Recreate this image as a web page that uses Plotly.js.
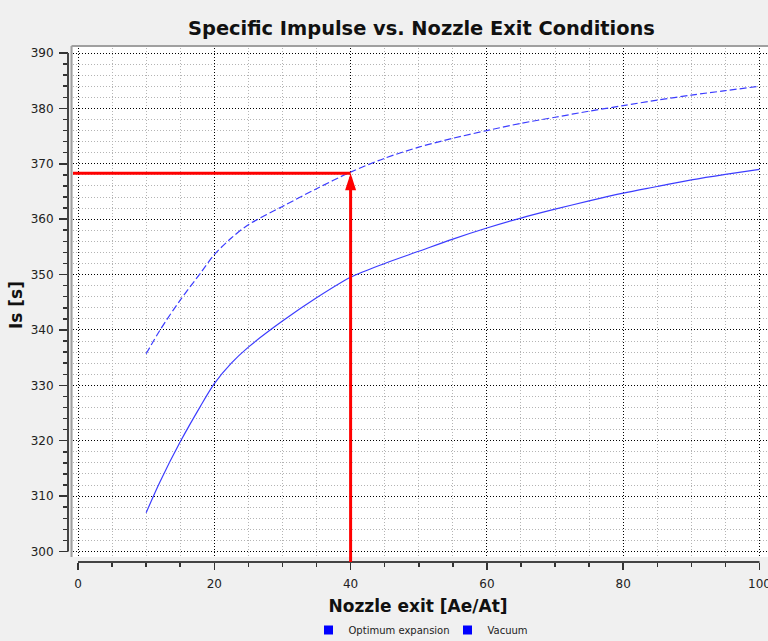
<!DOCTYPE html>
<html><head><meta charset="utf-8">
<script src="https://cdn.plot.ly/plotly-3.0.1.min.js"></script>
<style>html,body{margin:0;padding:0;background:#f0f0f0;}</style>
</head><body><div id="chart" style="width:768px;height:641px;"></div>
<script>
// ---- data ----
const areaRatio   = [10, 12, 15, 18, 20, 22.5, 25, 30, 35, 40, 45, 50, 55, 60, 65, 70, 75, 80, 85, 90, 95, 100];
const ispOptimum  = [307.0, 312.5, 319.8, 326.3, 330.3, 334.0, 336.9, 341.6, 345.8, 349.5, 352.0, 354.2, 356.4, 358.4, 360.2, 361.8, 363.3, 364.7, 365.9, 367.1, 368.1, 369.0];
const ispVacuum   = [335.7, 339.9, 345.4, 350.3, 353.6, 356.6, 359.0, 362.3, 365.5, 368.5, 371.0, 373.0, 374.6, 376.0, 377.3, 378.4, 379.5, 380.5, 381.5, 382.4, 383.2, 384.0];
const seriesNames = ["Optimum expansion", "Vacuum"];
const markerAreaRatio = [40];
const markerIsp       = [368.3];
const xTicks = [0, 20, 40, 60, 80, 100];
const yTicks = [300, 310, 320, 330, 340, 350, 360, 370, 380, 390];

// ---- geometry ----
const W = 768, H = 641;
const L = 68, R = 0, T = 48, B = 79;
const plotW = W - L - R, plotH = H - T - B;
const xPx0 = 78, xPx100 = 759.5;           // pixel of x=0 and x=100
const yPx390 = 53, yPx300 = 551.5;         // pixel of y=390 and y=300
const sx = (xPx100 - xPx0) / 100;
const sy = (yPx300 - yPx390) / 90;
const gapL = 5, gapB = 5;                  // gray strip between axes and white area
const xRight = 100 + (W - R - xPx100) / sx;
const yTop = 390 + (yPx390 - T) / sy;
const x2Range = [-(xPx0 - L) / sx, xRight];
const xRange  = [-(xPx0 - L - gapL) / sx, xRight];
const y2Range = [300 - (H - B - yPx300) / sy, yTop];
const yRange  = [300 - (H - B - gapB - yPx300) / sy, yTop];
const dX = gapL / plotW, dY = gapB / plotH;

const font = "DejaVu Sans, Verdana, sans-serif";
const lineBlue = "#3c3cff";

const traces = [
  {x: areaRatio, y: ispOptimum, xaxis: "x", yaxis: "y", mode: "lines", name: seriesNames[0],
   line: {color: lineBlue, width: 1.2, shape: "spline", smoothing: 0.8}, showlegend: false, hoverinfo: "skip"},
  {x: areaRatio, y: ispVacuum, xaxis: "x", yaxis: "y", mode: "lines", name: seriesNames[1],
   line: {color: lineBlue, width: 1.2, dash: "7px,3px", shape: "spline", smoothing: 0.8}, showlegend: false, hoverinfo: "skip"},
  {x: [null], y: [null], xaxis: "x2", yaxis: "y2", mode: "markers", name: seriesNames[0],
   marker: {symbol: "square", size: 9, color: "#0000ff"}},
  {x: [null], y: [null], xaxis: "x2", yaxis: "y2", mode: "markers", name: seriesNames[1],
   marker: {symbol: "square", size: 9, color: "#0000ff"}}
];

const gridCommon = {showticklabels: false, ticks: "", zeroline: false, showline: false,
  gridcolor: "#000000", griddash: "1px,2px", gridwidth: 1};
const minorGrid = {showgrid: true, gridcolor: "#b4b4b4", griddash: "1px,2px", gridwidth: 1};

const layout = {
  width: W, height: H,
  margin: {l: L, r: R, t: T, b: B, pad: 0, autoexpand: false},
  paper_bgcolor: "#f0f0f0", plot_bgcolor: "rgba(0,0,0,0)",
  font: {family: font, size: 12, color: "#222"},
  title: {text: "<b>Specific Impulse vs. Nozzle Exit Conditions</b>",
    font: {family: font, size: 19.4, color: "#111"},
    xref: "container", x: 421.5 / W, xanchor: "center",
    yref: "container", y: 1 - 28 / H, yanchor: "middle"},
  xaxis: Object.assign({}, gridCommon, {domain: [dX, 1], range: xRange, anchor: "y",
    tickmode: "array", tickvals: xTicks, showgrid: true,
    minor: Object.assign({dtick: 5}, minorGrid)}),
  yaxis: Object.assign({}, gridCommon, {domain: [dY, 1], range: yRange, anchor: "x",
    tickmode: "array", tickvals: yTicks, showgrid: true,
    minor: Object.assign({dtick: 2}, minorGrid)}),
  xaxis2: {domain: [0, 1], range: x2Range, anchor: "free", position: 0,
    showgrid: false, zeroline: false, showline: false,
    tickmode: "array", tickvals: xTicks, ticks: "outside", ticklen: 7, tickwidth: 1.5, tickcolor: "#333",
    minor: {dtick: 5, ticks: "outside", ticklen: 4, tickwidth: 1.5, tickcolor: "#333", showgrid: false},
    tickfont: {family: font, size: 12, color: "#222"}, ticklabelstandoff: 4, ticklabeloverflow: "allow",
    title: {text: "<b>Nozzle exit [Ae/At]</b>", font: {family: font, size: 17, color: "#111"}, standoff: 9}},
  yaxis2: {domain: [0, 1], range: y2Range, anchor: "free", position: 0, side: "left",
    showgrid: false, zeroline: false, showline: false,
    tickmode: "array", tickvals: yTicks, ticks: "outside", ticklen: 9, tickwidth: 1.5, tickcolor: "#333",
    minor: {dtick: 2, ticks: "outside", ticklen: 5, tickwidth: 1.5, tickcolor: "#333", showgrid: false},
    tickfont: {family: font, size: 12, color: "#222"}, ticklabelstandoff: 3, ticklabeloverflow: "allow",
    title: {text: "<b>Is [s]</b>", font: {family: font, size: 17, color: "#111"}, standoff: 2}},
  showlegend: true,
  legend: {orientation: "h", xref: "paper", x: (308.5 - L) / plotW, xanchor: "left",
    yref: "paper", y: -(630 - (H - B)) / plotH, yanchor: "middle",
    font: {family: font, size: 10, color: "#222"}, bgcolor: "rgba(0,0,0,0)",
    entrywidth: 94, entrywidthmode: "pixels", itemclick: false, itemdoubleclick: false},
  shapes: [
    {type: "rect", xref: "paper", yref: "paper", layer: "below", x0: dX, x1: 1.01, y0: dY, y1: 1 + 1.5 / plotH,
     fillcolor: "#ffffff", line: {width: 0}},
    {type: "line", xref: "paper", yref: "paper", layer: "below", x0: 3.5 / plotW, x1: 3.5 / plotW, y0: dY, y1: 1 + 2 / plotH,
     line: {color: "#a0a0a0", width: 2}},
    {type: "line", xref: "paper", yref: "paper", layer: "below", x0: 3.5 / plotW, x1: 1.01, y0: 1 + 2 / plotH, y1: 1 + 2 / plotH,
     line: {color: "#a0a0a0", width: 2}},
    // axis lines spanning only the data range
    {type: "line", xref: "x2", yref: "paper", x0: xTicks[0], x1: xTicks[xTicks.length - 1], y0: 0, y1: 0,
     line: {color: "#444", width: 2}},
    {type: "line", xref: "paper", yref: "y2", x0: 0, x1: 0, y0: yTicks[0], y1: yTicks[yTicks.length - 1],
     line: {color: "#444", width: 2}},
    // red marker lines
    {type: "line", xref: "x", yref: "y", x0: xRange[0], x1: markerAreaRatio[0], y0: markerIsp[0], y1: markerIsp[0],
     line: {color: "#ff0000", width: 3}},
    {type: "line", xref: "x2", yref: "y2", x0: markerAreaRatio[0], x1: markerAreaRatio[0],
     y0: y2Range[0] - 1 / sy, y1: markerIsp[0] - 4 / sy, line: {color: "#ff0000", width: 3}},
    {type: "path", xref: "x", yref: "y", xsizemode: "pixel", ysizemode: "pixel",
     xanchor: markerAreaRatio[0], yanchor: markerIsp[0], path: "M0,0L-5.5,-17L5.5,-17Z",
     fillcolor: "#ff0000", line: {width: 0}}
  ],
  hovermode: false
};

Plotly.newPlot("chart", traces, layout, {displayModeBar: false, staticPlot: true});
</script>
</body></html>
